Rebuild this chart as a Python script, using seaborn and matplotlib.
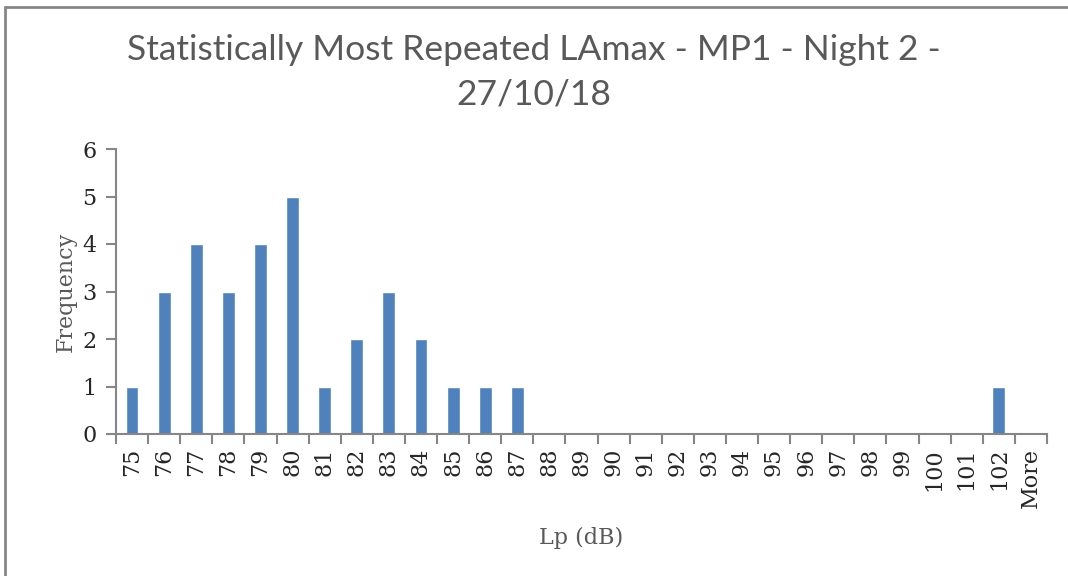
import matplotlib
matplotlib.use("Agg")
import matplotlib.pyplot as plt
import seaborn as sns
import pandas as pd
from matplotlib.lines import Line2D
from matplotlib.ticker import FixedLocator

# histogram bins and counts
bins = [str(b) for b in range(75, 103)] + ["More"]
counts = [1, 3, 4, 3, 4, 5, 1, 2, 3, 2, 1, 1, 1,
          0, 0, 0, 0, 0, 0, 0, 0, 0, 0, 0, 0, 0, 0, 1, 0]
title_lines = ["Statistically Most Repeated LAmax - MP1 - Night 2 -", "27/10/18"]

df = pd.DataFrame({"bin": bins, "freq": counts})

sns.set_style("white")
axis_grey = "#868686"
text_grey = "#595959"
serif = ["DejaVu Serif"]

W, H = 1068, 576
fig = plt.figure(figsize=(W / 100, H / 100), dpi=100)
ax = fig.add_axes([116 / W, 1 - 434 / H, (1047 - 116) / W, (434 - 149) / H])

sns.barplot(data=df, x="bin", y="freq", color="#4F81BD", width=0.4,
            saturation=1, ax=ax)

ax.set_xlim(-0.5, len(bins) - 0.5)
ax.set_ylim(0, 6)
ax.set_yticks(range(0, 7))

for s in ["top", "right"]:
    ax.spines[s].set_visible(False)
for s in ["left", "bottom"]:
    ax.spines[s].set_color(axis_grey)
    ax.spines[s].set_linewidth(1.5)

ax.set_xticks(range(len(bins)))
ax.set_xticklabels(bins, rotation=90, family=serif, fontsize=16, va="top")
ax.tick_params(axis="x", which="major", length=0, pad=10)
ax.xaxis.set_minor_locator(FixedLocator([i - 0.5 for i in range(len(bins) + 1)]))
ax.tick_params(axis="x", which="minor", length=7, width=1.5, color=axis_grey,
               direction="out", bottom=True)
ax.tick_params(axis="y", length=7, width=1.5, color=axis_grey, direction="out",
               left=True, pad=7)
for lab in ax.get_yticklabels():
    lab.set_family(serif)
    lab.set_fontsize(16)

ax.set_xlabel("Lp (dB)", family=serif, fontsize=16, color=text_grey)
ax.xaxis.set_label_coords(0.5, -0.325)
ax.set_ylabel("Frequency", family=serif, fontsize=16, color=text_grey, labelpad=4)

# two-line chart title
for i, line in enumerate(title_lines):
    fig.text(0.5, 1 - (50 + 45 * i) / H, line, ha="center", va="center",
             fontsize=25.5, color=text_grey, family=["Lato", "DejaVu Sans"])

# chart frame (only top and left edges visible in the crop)
fig.add_artist(Line2D([4.5 / W, 1], [1 - 6.5 / H] * 2, transform=fig.transFigure,
                      color=axis_grey, linewidth=2))
fig.add_artist(Line2D([4.5 / W] * 2, [0, 1 - 6.5 / H], transform=fig.transFigure,
                      color=axis_grey, linewidth=2))

fig.savefig("out.png", dpi=100)
